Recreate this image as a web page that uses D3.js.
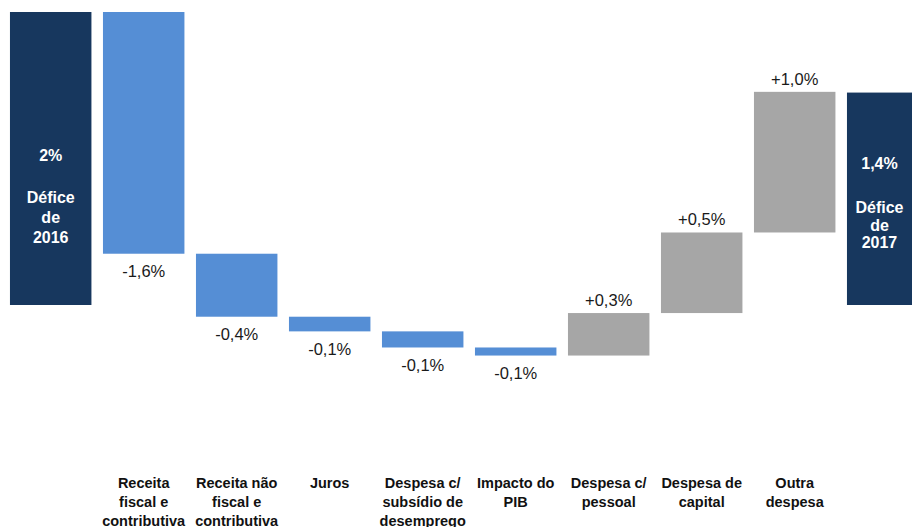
<!DOCTYPE html>
<html><head><meta charset="utf-8">
<script src="https://cdn.jsdelivr.net/npm/d3@7"></script>
<style>
html,body{margin:0;padding:0;background:#fff;}
svg{display:block;font-family:"Liberation Sans",Arial,sans-serif;}
</style></head>
<body>
<svg id="c" width="916" height="527"></svg>
<script>
// ---- data ----
const startLabel = ["2%", "", "Défice", "de", "2016"];
const endLabel = ["1,4%", "", "Défice", "de", "2017"];
const startValue = 2.0;
const endValue = 1.45;
const categories = [
  ["Receita", "fiscal e", "contributiva"],
  ["Receita não", "fiscal e", "contributiva"],
  ["Juros"],
  ["Despesa c/", "subsídio de", "desemprego"],
  ["Impacto do", "PIB"],
  ["Despesa c/", "pessoal"],
  ["Despesa de", "capital"],
  ["Outra", "despesa"]
];
const deltas = [-1.65, -0.43, -0.10, -0.11, -0.055, 0.29, 0.55, 0.96];
const deltaLabels = ["-1,6%", "-0,4%", "-0,1%", "-0,1%", "-0,1%", "+0,3%", "+0,5%", "+1,0%"];

// ---- build ----
const navy = "#17375e", blue = "#558ed5", gray = "#a6a6a6";
const svg = d3.select("#c");
const keys = d3.range(categories.length + 2).map(String);
const x = d3.scaleBand().domain(keys).range([4.2, 934.2]).paddingInner(0.124).paddingOuter(0.062);
const y = d3.scaleLinear().domain([-0.4, 2.0]).range([305 + 0.4 * 146.5, 12]);

svg.append("clipPath").attr("id", "clip").append("rect")
  .attr("x", 0).attr("y", 0).attr("width", 912).attr("height", 527);

const bars = [];
bars.push({k: "0", y0: 0, y1: startValue, color: navy, type: "total"});
let cum = startValue;
deltas.forEach((d, i) => {
  const a = cum, b = cum + d;
  bars.push({k: String(i + 1), y0: a, y1: b, color: d < 0 ? blue : gray, type: "delta", d, label: deltaLabels[i], cat: categories[i]});
  cum = b;
});
bars.push({k: String(categories.length + 1), y0: 0, y1: endValue, color: navy, type: "total"});

const g = svg.append("g").attr("clip-path", "url(#clip)");
g.selectAll("rect.bar").data(bars).join("rect")
  .attr("class", "bar")
  .attr("x", d => x(d.k))
  .attr("width", x.bandwidth())
  .attr("y", d => y(Math.max(d.y0, d.y1)))
  .attr("height", d => Math.abs(y(d.y0) - y(d.y1)))
  .attr("fill", d => d.color);

// delta labels
bars.filter(d => d.type === "delta").forEach(d => {
  const cx = x(d.k) + x.bandwidth() / 2;
  const yy = d.d < 0 ? y(Math.min(d.y0, d.y1)) + 17.5 : y(Math.max(d.y0, d.y1)) - 13;
  svg.append("text").attr("x", cx).attr("y", yy)
    .attr("text-anchor", "middle").attr("dominant-baseline", "central")
    .attr("font-size", 16.5).attr("fill", "#1a1a1a").text(d.label);
  const t = svg.append("text").attr("text-anchor", "middle")
    .attr("font-size", 14.5).attr("font-weight", "bold").attr("fill", "#111");
  d.cat.forEach((line, j) => {
    t.append("tspan").attr("x", cx).attr("y", 483 + j * 18.8)
      .attr("dominant-baseline", "central").text(line);
  });
});

// total labels
function totalText(lines, cx, ys) {
  const t = svg.append("text").attr("text-anchor", "middle")
    .attr("font-size", 16).attr("font-weight", "bold").attr("fill", "#fff");
  lines.forEach((line, j) => {
    if (!line) return;
    t.append("tspan").attr("x", cx).attr("y", ys[j]).attr("dominant-baseline", "central").text(line);
  });
}
totalText(startLabel, x("0") + x.bandwidth() / 2, [155, 176, 197, 217, 237]);
const lastX = x(String(categories.length + 1));
totalText(endLabel, (lastX + 912) / 2, [163, 185, 207, 225, 242]);
</script>
</body></html>
